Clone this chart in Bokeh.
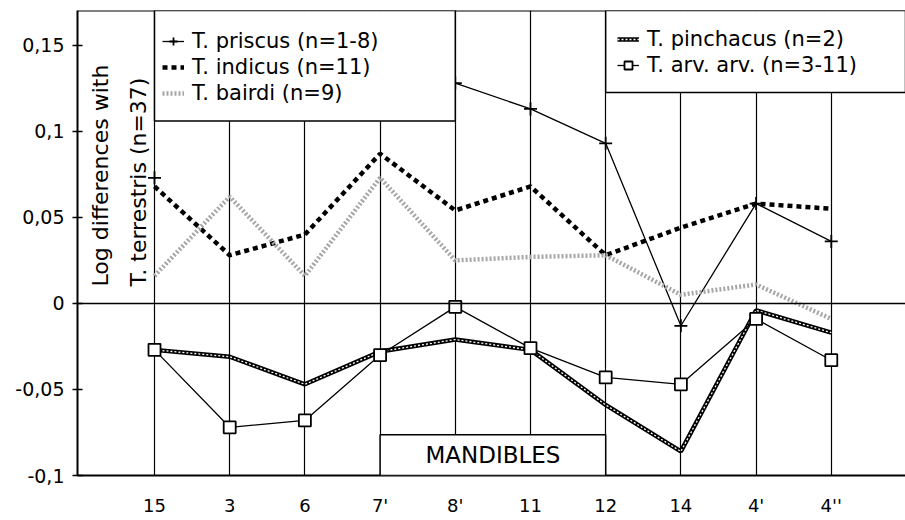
import math
import numpy as np
from bokeh.plotting import figure
from bokeh.models import Range1d, FixedTicker, Span, BoxAnnotation, Label, Legend, LegendItem
from bokeh.embed import file_html
from bokeh.resources import INLINE

nan = float("nan")

# ---- data -------------------------------------------------------------
categories = ["15", "3", "6", "7'", "8'", "11", "12", "14", "4'", "4''"]
y_ticks = [-0.1, -0.05, 0, 0.05, 0.1, 0.15]
y_tick_labels = ["-0,1", "-0,05", "0", "0,05", "0,1", "0,15"]

priscus = [0.073, nan, nan, nan, 0.128, 0.113, 0.093, -0.013, 0.058, 0.036]
indicus = [0.068, 0.028, 0.040, 0.087, 0.054, 0.068, 0.028, 0.044, 0.058, 0.055]
bairdi = [0.016, 0.062, 0.016, 0.073, 0.025, 0.027, 0.028, 0.005, 0.011, -0.009]
pinchacus = [-0.027, -0.031, -0.047, -0.028, -0.021, -0.027, -0.059, -0.086, -0.004, -0.017]
arv_arv = [-0.027, -0.072, -0.068, -0.030, -0.002, -0.026, -0.043, -0.047, -0.009, -0.033]

series_labels = ["T. priscus (n=1-8)", "T. indicus (n=11)", "T. bairdi (n=9)",
                 "T. pinchacus (n=2)", "T. arv. arv. (n=3-11)"]
y_title = ["Log differences with", "T. terrestris (n=37)"]
box_title = "MANDIBLES"

# ---- figure -----------------------------------------------------------
xs = list(range(1, len(categories) + 1))
X0, X1 = -0.024, 10.987
Y0, Y1 = -0.1, 0.1702
FONT = "DejaVu Sans"

p = figure(width=905, height=520, x_range=Range1d(X0, X1), y_range=Range1d(Y0, Y1),
           output_backend="svg", toolbar_location=None,
           min_border_left=77, min_border_right=0, min_border_top=10, min_border_bottom=45)
p.outline_line_color = None
p.background_fill_color = "white"

# axes
p.xaxis.ticker = FixedTicker(ticks=xs)
p.xaxis.major_label_overrides = {x: c for x, c in zip(xs, categories)}
p.yaxis.ticker = FixedTicker(ticks=y_ticks)
p.yaxis.major_label_overrides = {t: l for t, l in zip(y_ticks, y_tick_labels)}
for ax in (p.xaxis[0], p.yaxis[0]):
    ax.axis_line_color = "black"
    ax.axis_line_width = 2
    ax.major_label_text_color = "black"
    ax.major_label_text_font = FONT
    ax.minor_tick_line_color = None
    ax.major_tick_line_color = "black"
    ax.major_tick_line_width = 1.5
p.xaxis.major_label_text_font_size = "18px"
p.yaxis.major_label_text_font_size = "19px"
p.xaxis.major_tick_out = 0
p.xaxis.major_tick_in = 0
p.xaxis.major_label_standoff = 19
p.yaxis.major_tick_out = 5
p.yaxis.major_tick_in = 5
p.yaxis.major_label_standoff = 8

p.xgrid.ticker = FixedTicker(ticks=xs)
p.xgrid.grid_line_color = "black"
p.xgrid.grid_line_width = 1.2
p.xgrid.grid_line_alpha = 1
p.ygrid.grid_line_color = None

p.add_layout(Span(location=0, dimension="width", line_color="black", line_width=1.5))
p.add_layout(Span(location=Y1, dimension="width", line_color="black", line_width=2))

# ---- series -----------------------------------------------------------
r_pr_line = p.line(xs, priscus, line_color="black", line_width=1.3)
r_pr_pts = p.scatter(xs, priscus, marker="cross", size=13, line_color="black", line_width=1.8)

r_in = p.line(xs, indicus, line_color="black", line_width=4.5, line_dash="5 4")

r_ba = p.line(xs, bairdi, line_color="#a6a6a6", line_width=4.5, line_dash="2 2")

r_pi_a = p.line(xs, pinchacus, line_color="black", line_width=4.5)
r_pi_b = p.line(xs, pinchacus, line_color="white", line_width=1.3, line_dash="2 2")

r_ar_line = p.line(xs, arv_arv, line_color="black", line_width=1.3)
r_ar_pts = p.scatter(xs, arv_arv, marker="square", size=12, fill_color="white",
                     line_color="black", line_width=1.8)

# ---- boxes -------------------------------------------------------------
box_style = dict(fill_color="white", fill_alpha=1, line_color="black", line_width=1.5, line_alpha=1)
p.add_layout(BoxAnnotation(left=xs[0], right=xs[4], bottom=0.106, top=Y1, **box_style))
p.add_layout(BoxAnnotation(left=xs[6], right=X1, bottom=0.1225, top=Y1, **box_style))
mand_top = -0.0763
p.add_layout(BoxAnnotation(left=xs[3], right=xs[6], bottom=Y0, top=mand_top, **box_style))

p.add_layout(Label(x=(xs[3] + xs[6]) / 2, y=(Y0 + mand_top) / 2, text=box_title,
                   text_align="center", text_baseline="middle",
                   text_font=FONT, text_font_size="23px", text_color="black"))

p.add_layout(Label(x=0.282, y=0.0098, text=y_title[0], angle=math.pi / 2,
                   text_align="left", text_baseline="middle",
                   text_font=FONT, text_font_size="22px", text_color="black"))
p.add_layout(Label(x=0.787, y=0.0098, text=y_title[1], angle=math.pi / 2,
                   text_align="left", text_baseline="middle",
                   text_font=FONT, text_font_size="22px", text_color="black"))

# ---- legends -----------------------------------------------------------
leg_style = dict(border_line_alpha=0, background_fill_alpha=0, padding=10, spacing=2,
                 label_height=20, glyph_height=20, glyph_width=22, label_standoff=8,
                 label_text_font=FONT, label_text_font_size="21px", label_text_color="black",
                 margin=0)
leg1 = Legend(items=[LegendItem(label=series_labels[0], renderers=[r_pr_line, r_pr_pts]),
                     LegendItem(label=series_labels[1], renderers=[r_in]),
                     LegendItem(label=series_labels[2], renderers=[r_ba])],
              location=(75, 360), **leg_style)
leg2 = Legend(items=[LegendItem(label=series_labels[3], renderers=[r_pi_a, r_pi_b]),
                     LegendItem(label=series_labels[4], renderers=[r_ar_line, r_ar_pts])],
              location=(530, 388), **leg_style)
p.add_layout(leg1)
p.add_layout(leg2)

open("out.html", "w").write(file_html(p, INLINE))
